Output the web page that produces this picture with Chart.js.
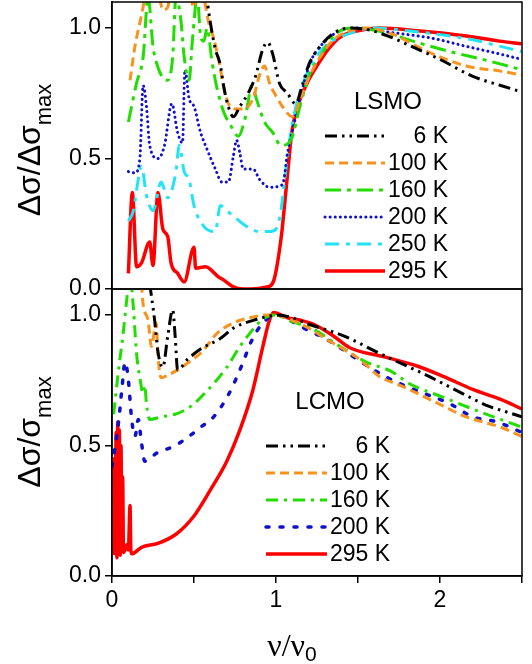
<!DOCTYPE html>
<html>
<head>
<meta charset="utf-8">
<script src="https://cdn.jsdelivr.net/npm/chart.js@4/dist/chart.umd.min.js"></script>
<style>
  body { margin: 0; background: #fff; }
  .panel { position: absolute; left: 0; }
  canvas { display: block; }
</style>
</head>
<body>
<div class="panel" style="top:0px"><canvas id="chart-lsmo" width="532" height="310"></canvas></div>
<div class="panel" style="top:288px"><canvas id="chart-lcmo" width="532" height="376"></canvas></div>
<script>
// Axis ticks
const xTickValues = [0, 0.5, 1, 1.5, 2, 2.5];
const yTickValues = [0, 0.5, 1.0];

// Legend labels
const lsmoLabels = ['6 K', '100 K', '160 K', '200 K', '250 K', '295 K'];
const lcmoLabels = ['6 K', '100 K', '160 K', '200 K', '295 K'];

// LSMO series, [nu/nu0, value]
const lsmo6K = [[0.57,1.15],[0.6,1.02],[0.63,0.92],[0.66,0.86],[0.68,0.78],[0.7,0.72],[0.74,0.66],[0.78,0.7],[0.83,0.75],[0.875,0.815],[0.92,0.92],[0.95,0.945],[0.98,0.9],[1.02,0.79],[1.07,0.75],[1.12,0.71],[1.16,0.78],[1.2,0.86],[1.27,0.93],[1.35,0.98],[1.45,1.0],[1.55,0.995],[1.68,0.97],[1.86,0.92],[2.0,0.88],[2.2,0.815],[2.37,0.78],[2.5,0.755]];
const lsmo100K = [[0.11,0.8],[0.14,0.93],[0.18,1.05],[0.21,1.15],[0.25,1.3],[0.29,1.12],[0.31,1.07],[0.34,1.08],[0.37,1.2],[0.45,1.2],[0.5,1.08],[0.53,1.2],[0.56,1.12],[0.59,1.02],[0.62,0.96],[0.65,0.88],[0.68,0.78],[0.71,0.71],[0.75,0.69],[0.8,0.69],[0.86,0.73],[0.9,0.82],[0.93,0.855],[0.96,0.79],[1.0,0.74],[1.05,0.69],[1.1,0.66],[1.15,0.73],[1.2,0.81],[1.27,0.89],[1.35,0.955],[1.45,0.99],[1.55,1.0],[1.7,0.98],[1.86,0.93],[1.96,0.9],[2.16,0.855],[2.37,0.835],[2.5,0.82]];
const lsmo160K = [[0.1,0.64],[0.15,0.79],[0.19,0.89],[0.22,1.12],[0.25,0.93],[0.28,0.85],[0.31,0.81],[0.34,0.8],[0.37,0.89],[0.39,1.12],[0.42,1.03],[0.44,0.89],[0.47,0.8],[0.49,0.95],[0.52,1.12],[0.54,0.97],[0.56,0.95],[0.58,1.0],[0.61,0.87],[0.64,0.77],[0.68,0.68],[0.73,0.62],[0.77,0.585],[0.81,0.65],[0.855,0.78],[0.88,0.73],[0.93,0.64],[0.98,0.6],[1.03,0.55],[1.09,0.57],[1.15,0.71],[1.21,0.83],[1.27,0.89],[1.35,0.97],[1.47,1.0],[1.65,0.985],[1.86,0.945],[2.06,0.91],[2.26,0.88],[2.5,0.84]];
const lsmo200K = [[0.1,0.45],[0.14,0.445],[0.17,0.5],[0.19,0.78],[0.21,0.7],[0.23,0.55],[0.28,0.5],[0.32,0.55],[0.365,0.71],[0.4,0.6],[0.43,0.56],[0.445,0.84],[0.47,0.73],[0.5,0.7],[0.54,0.6],[0.58,0.535],[0.63,0.46],[0.67,0.41],[0.71,0.41],[0.74,0.51],[0.76,0.57],[0.78,0.52],[0.8,0.46],[0.86,0.46],[0.9,0.42],[0.96,0.39],[1.04,0.4],[1.07,0.52],[1.12,0.66],[1.15,0.74],[1.21,0.87],[1.27,0.93],[1.39,0.99],[1.49,1.0],[1.68,0.985],[1.96,0.96],[2.16,0.93],[2.37,0.9],[2.5,0.88]];
const lsmo250K = [[0.1,0.26],[0.13,0.3],[0.16,0.42],[0.18,0.47],[0.21,0.36],[0.25,0.3],[0.3,0.41],[0.34,0.35],[0.39,0.45],[0.41,0.55],[0.44,0.45],[0.47,0.42],[0.5,0.32],[0.56,0.24],[0.63,0.22],[0.66,0.32],[0.7,0.3],[0.74,0.28],[0.82,0.24],[0.9,0.22],[0.96,0.22],[1.0,0.23],[1.03,0.3],[1.06,0.46],[1.09,0.6],[1.13,0.72],[1.2,0.84],[1.3,0.93],[1.45,0.98],[1.6,1.0],[1.8,0.99],[2.0,0.975],[2.2,0.955],[2.4,0.925],[2.5,0.91]];
const lsmo295K = [[0.1,0.06],[0.124,0.37],[0.15,0.085],[0.18,0.1],[0.23,0.18],[0.25,0.09],[0.28,0.37],[0.31,0.23],[0.34,0.2],[0.36,0.1],[0.4,0.06],[0.44,0.027],[0.5,0.16],[0.51,0.08],[0.57,0.085],[0.65,0.046],[0.68,0.035],[0.74,0.008],[0.8,0.0],[0.96,0.01],[0.985,0.03],[1.005,0.085],[1.035,0.215],[1.055,0.34],[1.075,0.47],[1.096,0.6],[1.127,0.69],[1.19,0.79],[1.25,0.855],[1.32,0.92],[1.39,0.965],[1.5,0.99],[1.63,1.0],[1.86,0.99],[2.16,0.97],[2.36,0.95],[2.5,0.94]];

// LCMO series
const lcmo6K = [[0.23,1.12],[0.26,0.98],[0.28,0.86],[0.31,0.8],[0.34,0.92],[0.37,1.02],[0.385,0.92],[0.4,0.79],[0.46,0.83],[0.54,0.87],[0.66,0.91],[0.74,0.95],[0.86,0.98],[0.95,0.995],[1.0,1.0],[1.1,0.99],[1.2,0.965],[1.35,0.935],[1.45,0.91],[1.61,0.86],[1.71,0.83],[1.9,0.775],[1.98,0.75],[2.12,0.705],[2.3,0.65],[2.4,0.63],[2.5,0.61]];
const lcmo100K = [[0.18,1.12],[0.19,1.04],[0.22,0.98],[0.24,0.88],[0.27,0.97],[0.28,0.85],[0.3,0.76],[0.34,0.77],[0.4,0.79],[0.47,0.82],[0.55,0.86],[0.64,0.93],[0.74,0.97],[0.84,0.99],[0.94,1.0],[1.0,1.0],[1.1,0.98],[1.2,0.95],[1.3,0.91],[1.41,0.87],[1.51,0.83],[1.63,0.765],[1.76,0.73],[1.96,0.67],[2.16,0.61],[2.37,0.57],[2.5,0.535]];
const lcmo160K = [[0.01,0.62],[0.04,0.79],[0.07,0.94],[0.09,1.06],[0.11,1.15],[0.13,1.03],[0.15,0.85],[0.17,0.76],[0.19,0.7],[0.2,0.73],[0.21,0.66],[0.23,0.6],[0.3,0.61],[0.385,0.62],[0.48,0.65],[0.58,0.71],[0.7,0.8],[0.78,0.88],[0.84,0.93],[0.92,0.985],[0.99,1.0],[1.1,0.975],[1.23,0.945],[1.39,0.88],[1.55,0.82],[1.7,0.785],[1.82,0.735],[2.02,0.685],[2.24,0.63],[2.37,0.6],[2.5,0.57]];
const lcmo200K = [[0.0,0.42],[0.02,0.5],[0.04,0.59],[0.06,0.715],[0.08,0.82],[0.1,0.75],[0.12,0.6],[0.14,0.535],[0.16,0.6],[0.18,0.51],[0.2,0.44],[0.27,0.47],[0.385,0.5],[0.48,0.54],[0.54,0.57],[0.62,0.61],[0.71,0.695],[0.79,0.805],[0.85,0.9],[0.92,0.97],[1.0,1.0],[1.1,0.975],[1.2,0.94],[1.27,0.92],[1.39,0.875],[1.52,0.82],[1.68,0.76],[1.82,0.72],[2.06,0.66],[2.2,0.61],[2.35,0.59],[2.5,0.55]];
const lcmo295K = [[0.01,0.08],[0.015,0.45],[0.02,0.1],[0.025,0.55],[0.03,0.07],[0.035,0.59],[0.04,0.2],[0.045,0.56],[0.05,0.08],[0.055,0.5],[0.06,0.12],[0.065,0.38],[0.07,0.09],[0.08,0.1],[0.09,0.12],[0.1,0.1],[0.11,0.27],[0.115,0.1],[0.12,0.085],[0.18,0.11],[0.28,0.125],[0.39,0.16],[0.5,0.23],[0.6,0.33],[0.7,0.44],[0.78,0.56],[0.86,0.715],[0.92,0.88],[0.96,0.98],[0.985,1.01],[1.07,0.99],[1.15,0.98],[1.23,0.965],[1.35,0.92],[1.45,0.875],[1.66,0.84],[1.86,0.805],[2.02,0.765],[2.2,0.715],[2.37,0.677],[2.5,0.64]];

const FONT = "'Liberation Sans', Arial, sans-serif";

// line styles per temperature
const styles = {
    '6 K':   { color: '#000000', dash: [12, 5, 2.5, 5, 2.5, 5], cap: 'butt', width: 3 },
    '100 K': { color: '#F7931E', dash: [9, 5], cap: 'butt', width: 3 },
    '160 K': { color: '#22DD00', dash: [16, 6, 4, 6], cap: 'butt', width: 3 },
    '200 K': { color: '#1010CC', dash: [0.1, 5], cap: 'round', width: 3 },
    '250 K': { color: '#22E4F4', dash: [14, 7, 4, 7], cap: 'butt', width: 3 },
    '295 K': { color: '#FF0000', dash: [], cap: 'butt', width: 3.5 }
};
const lcmoBlue = { color: '#1010CC', dash: [3, 11], cap: 'round', width: 3.5 };
const lcmoGreen = { color: '#22DD00', dash: [12, 6, 3, 6], cap: 'butt', width: 3 };

function makeDataset(label, points, style) {
    return {
        label: label,
        data: points.map(p => ({ x: p[0], y: p[1] })),
        borderColor: style.color,
        borderDash: style.dash,
        borderCapStyle: style.cap,
        borderWidth: style.width,
        pointRadius: 0,
        fill: false,
        cubicInterpolationMode: 'monotone'
    };
}

// draws text followed by a lowered subscript, centered on 0
function drawWithSub(ctx, main, sub, mainFont, subFont, subDrop) {
    ctx.font = mainFont;
    const wMain = ctx.measureText(main).width;
    ctx.font = subFont;
    const wSub = ctx.measureText(sub).width;
    const start = -(wMain + wSub) / 2;
    ctx.textAlign = 'left';
    ctx.textBaseline = 'alphabetic';
    ctx.font = mainFont;
    ctx.fillText(main, start, 0);
    ctx.font = subFont;
    ctx.fillText(sub, start + wMain, subDrop);
}

// frame, y title, legend and optional x title
const panelDecor = {
    id: 'panelDecor',
    afterDraw(chart, args, opts) {
        const ctx = chart.ctx;
        const a = chart.chartArea;
        ctx.save();
        ctx.strokeStyle = '#000';
        ctx.lineWidth = 1.5;
        ctx.strokeRect(a.left, a.top, a.right - a.left, a.bottom - a.top);

        ctx.fillStyle = '#000';
        // y title, rotated
        ctx.save();
        ctx.translate(opts.yTitle.x, opts.yTitle.y);
        ctx.rotate(-Math.PI / 2);
        drawWithSub(ctx, opts.yTitle.main, 'max', '32px ' + FONT, '22px ' + FONT, 11);
        ctx.restore();

        // x title
        if (opts.xTitle) {
            ctx.save();
            ctx.translate(opts.xTitle.x, opts.xTitle.y);
            drawWithSub(ctx, '\u03BD/\u03BD', '0', "32px 'Liberation Serif', serif", '21px ' + FONT, 5);
            ctx.restore();
        }

        // legend
        const lg = opts.legend;
        ctx.font = '24px ' + FONT;
        ctx.textAlign = 'center';
        ctx.textBaseline = 'middle';
        ctx.fillText(lg.header, lg.headerX, lg.headerY);
        ctx.font = '23px ' + FONT;
        ctx.textAlign = 'right';
        lg.labels.forEach((label, i) => {
            const st = lg.styleFor(label);
            const y = lg.rowY + i * lg.rowDy;
            ctx.save();
            ctx.strokeStyle = st.color;
            ctx.lineWidth = st.width;
            ctx.lineCap = st.cap;
            ctx.setLineDash(st.dash);
            ctx.beginPath();
            ctx.moveTo(lg.lineX0, y);
            ctx.lineTo(lg.lineX1, y);
            ctx.stroke();
            ctx.restore();
            ctx.fillText(label, lg.textRight, y + 1);
        });
        ctx.restore();
    }
};

function yScale() {
    return {
        min: 0,
        max: 1.1,
        afterBuildTicks: s => { s.ticks = yTickValues.map(v => ({ value: v })); },
        afterFit: s => {
            s.width = 112;
            s.paddingTop = 0;
            s.paddingBottom = 0;
        },
        ticks: {
            color: '#000',
            font: { family: FONT, size: 23 },
            padding: 4,
            callback: v => v.toFixed(1)
        },
        grid: { drawOnChartArea: false, tickLength: 7, color: '#000', lineWidth: 1.5 },
        border: { color: '#000', width: 1.5 }
    };
}

function baseOptions(xScale, padding, decor) {
    return {
        responsive: false,
        animation: false,
        devicePixelRatio: 1,
        layout: { padding: padding },
        scales: { x: xScale, y: yScale() },
        plugins: {
            legend: { display: false },
            tooltip: { enabled: false },
            panelDecor: decor
        }
    };
}

// top panel: LSMO
const lsmoSeries = [lsmo6K, lsmo100K, lsmo160K, lsmo200K, lsmo250K, lsmo295K];
new Chart(document.getElementById('chart-lsmo'), {
    type: 'line',
    data: { datasets: lsmoLabels.map((l, i) => makeDataset(l, lsmoSeries[i], styles[l])) },
    options: baseOptions(
        { type: 'linear', min: 0, max: 2.5, display: false },
        { left: 0, top: 2, right: 10, bottom: 21 },
        {
            yTitle: { x: 40, y: 150, main: '\u0394\u03C3/\u0394\u03C3' },
            legend: {
                header: 'LSMO', headerX: 388, headerY: 102,
                labels: lsmoLabels, styleFor: l => styles[l],
                lineX0: 325, lineX1: 385, textRight: 448, rowY: 136, rowDy: 27
            }
        }
    ),
    plugins: [panelDecor]
});

// bottom panel: LCMO
const lcmoSeries = [lcmo6K, lcmo100K, lcmo160K, lcmo200K, lcmo295K];
const lcmoStyle = l => (l === '200 K' ? lcmoBlue : l === '160 K' ? lcmoGreen : styles[l]);
new Chart(document.getElementById('chart-lcmo'), {
    type: 'line',
    data: { datasets: lcmoLabels.map((l, i) => makeDataset(l, lcmoSeries[i], lcmoStyle(l))) },
    options: baseOptions(
        {
            type: 'linear', min: 0, max: 2.5,
            afterBuildTicks: s => { s.ticks = xTickValues.map(v => ({ value: v })); },
            afterFit: s => {
                s.height = 88;
                s.paddingLeft = 0;
                s.paddingRight = 0;
            },
            ticks: {
                color: '#000',
                font: { family: FONT, size: 23 },
                padding: 4,
                maxRotation: 0,
                autoSkip: false,
                callback: v => (Number.isInteger(v) ? String(v) : '')
            },
            grid: { drawOnChartArea: false, tickLength: 7, color: '#000', lineWidth: 1.5 },
            border: { color: '#000', width: 1.5 }
        },
        { left: 0, top: 1, right: 10, bottom: 0 },
        {
            yTitle: { x: 40, y: 144, main: '\u0394\u03C3/\u03C3' },
            xTitle: { x: 292, y: 368 },
            legend: {
                header: 'LCMO', headerX: 330, headerY: 114,
                labels: lcmoLabels, styleFor: lcmoStyle,
                lineX0: 266, lineX1: 327, textRight: 390, rowY: 158, rowDy: 27
            }
        }
    ),
    plugins: [panelDecor]
});
</script>
</body>
</html>
